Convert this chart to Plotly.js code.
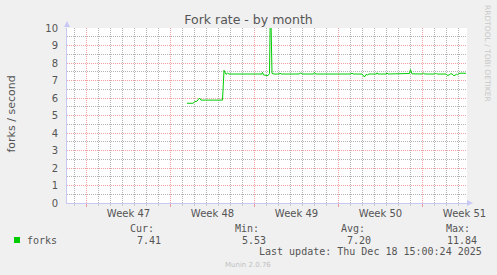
<!DOCTYPE html>
<html>
<head>
<meta charset="utf-8">
<script src="https://cdn.plot.ly/plotly-3.0.1.min.js"></script>
<style>html,body{margin:0;padding:0;background:#f0f0f0;}#chart{width:497px;height:275px;}</style>
</head>
<body>
<div id="chart"></div>
<script>
// ---- data ----
const times = [
 "2025-11-25 09:00","2025-11-25 21:00","2025-11-26 00:00","2025-11-26 05:00","2025-11-26 08:00",
 "2025-11-26 10:00","2025-11-26 13:00","2025-11-27 11:00","2025-11-28 08:00","2025-11-28 11:00",
 "2025-11-28 13:00","2025-11-28 15:00","2025-11-28 18:00","2025-11-28 21:00","2025-11-29 19:00",
 "2025-11-30 09:00","2025-11-30 11:00","2025-12-01 15:00","2025-12-01 16:00","2025-12-01 18:00",
 "2025-12-01 23:00","2025-12-02 03:00","2025-12-02 06:00","2025-12-02 08:00","2025-12-02 11:00",
 "2025-12-02 15:00","2025-12-03 02:00","2025-12-03 03:00","2025-12-03 05:00","2025-12-04 18:00",
 "2025-12-04 20:00","2025-12-04 23:00","2025-12-05 22:00","2025-12-06 00:00","2025-12-06 02:00",
 "2025-12-08 01:00","2025-12-09 01:00","2025-12-09 03:00","2025-12-09 05:00","2025-12-09 23:00",
 "2025-12-10 01:00","2025-12-10 04:00","2025-12-10 07:00","2025-12-10 10:00","2025-12-10 13:00",
 "2025-12-11 04:00","2025-12-11 05:00","2025-12-11 07:00","2025-12-11 23:00","2025-12-12 01:00",
 "2025-12-12 03:00","2025-12-13 22:00","2025-12-14 00:00","2025-12-14 03:00","2025-12-15 00:00",
 "2025-12-15 02:00","2025-12-15 04:00","2025-12-16 00:00","2025-12-16 02:00","2025-12-16 04:00",
 "2025-12-16 23:00","2025-12-17 01:00","2025-12-17 05:00","2025-12-17 08:00","2025-12-17 11:00",
 "2025-12-17 14:00","2025-12-17 17:00","2025-12-17 20:00","2025-12-17 22:00","2025-12-18 01:00",
 "2025-12-18 05:00","2025-12-18 15:00"
];
const forks = [
 5.70,5.70,5.78,5.82,5.93,
 6.00,5.88,5.88,5.88,7.58,
 7.40,7.35,7.42,7.37,7.37,
 7.40,7.37,7.37,7.46,7.32,
 7.30,7.28,7.40,11.84,7.40,
 7.37,7.37,7.43,7.37,7.37,
 7.44,7.37,7.37,7.46,7.37,
 7.37,7.37,7.43,7.37,7.37,
 7.32,7.20,7.35,7.32,7.37,
 7.37,7.44,7.37,7.37,7.43,
 7.37,7.40,7.62,7.38,7.37,
 7.44,7.37,7.37,7.43,7.37,
 7.37,7.30,7.31,7.38,7.38,
 7.28,7.30,7.36,7.33,7.40,
 7.42,7.41
];
const weekStarts = ["2025-11-17","2025-11-24","2025-12-01","2025-12-08","2025-12-15"];
const weekMids = ["2025-11-20 12:00","2025-11-27 12:00","2025-12-04 12:00","2025-12-11 12:00","2025-12-18 12:00"];
const weekLabels = ["Week 47","Week 48","Week 49","Week 50","Week 51"];
const xRange = ["2025-11-15 09:00","2025-12-18 17:00"];
const yTicks = [0,1,2,3,4,5,6,7,8,9,10];
const seriesName = "forks";
const statHeads = ["Cur:","Min:","Avg:","Max:"];
const statVals = ["7.41","5.53","7.20","11.84"];
const titleText = "Fork rate - by month";
const yTitle = "forks / second";
const lastUpdate = "Last update: Thu Dec 18 15:00:24 2025";
const footer = "Munin 2.0.76";
const sideText = "RRDTOOL / TOBI OETIKER";

// ---- minor grid positions (days that are not week starts; half steps on y) ----
const dayGrid = [];
for (let t = Date.UTC(2025, 10, 16); t <= Date.UTC(2025, 11, 18); t += 86400000) {
  const d = new Date(t);
  if (d.getUTCDay() !== 1) dayGrid.push(d.toISOString().slice(0, 10) + " 00:00");
}
const halfGrid = yTicks.slice(0, -1).map(v => v + 0.5);

// ---- geometry helpers (pixel -> paper) ----
const L = 67, R = 467, T = 28, B = 203, W = 497, H = 275;
const px = x => (x - L) / (R - L);
const py = y => (B - y) / (B - T);

const grey = "#555555";
const mono = "DejaVu Sans Mono, monospace";
const sans = "DejaVu Sans, sans-serif";

const anns = [];
function txt(text, x, y, anchor, size, color, family, angle) {
  anns.push({text: text, xref: "paper", yref: "paper", x: px(x), y: py(y),
    xanchor: anchor, yanchor: "middle", showarrow: false, borderpad: 0,
    textangle: angle || 0,
    font: {size: size, color: color, family: family}});
}
txt(yTitle, 10.5, 114, "center", 11, grey, sans, -90);
txt(sideText, 488, 53, "center", 7.5, "#c8c8c8", sans, 90);
txt(seriesName, 26, 240, "left", 10, grey, mono);
const headRight = [155, 260, 366, 471];
const valRight = [162, 267, 372, 478];
for (let i = 0; i < statHeads.length; i++) {
  txt(statHeads[i], headRight[i], 228, "right", 10, grey, mono);
  txt(statVals[i], valRight[i], 240, "right", 10, grey, mono);
}
txt(lastUpdate, 483, 251.5, "right", 10, grey, mono);
txt(footer, 248, 264.5, "center", 7, "#c0c0c0", sans);

const axisCol = "#c8c8f5";
const shapes = [
  {type: "rect", xref: "paper", yref: "paper", x0: px(14), x1: px(20), y0: py(237), y1: py(243),
   fillcolor: "#00cc00", line: {width: 0}},
  {type: "path", xref: "paper", yref: "paper",
   path: `M ${px(64)},${py(27)} L ${px(70)},${py(27)} L ${px(67)},${py(21)} Z`,
   fillcolor: axisCol, line: {width: 0}},
  {type: "path", xref: "paper", yref: "paper",
   path: `M ${px(467)},${py(200)} L ${px(467)},${py(206)} L ${px(473)},${py(203)} Z`,
   fillcolor: axisCol, line: {width: 0}}
];

const majorGrid = "#f0a0a0", minorGrid = "#b4b4b4", dots = "1px,1px";

// daily grey gridlines drawn as a background line trace (one segment per day)
const gx = [], gy = [];
dayGrid.forEach(d => { gx.push(d, d, null); gy.push(0, 10, null); });
const dayGridTrace = {
  x: gx, y: gy, type: "scatter", mode: "lines", hoverinfo: "skip", showlegend: false,
  line: {color: minorGrid, width: 1, dash: dots}, connectgaps: false
};

const trace = {
  x: times, y: forks, type: "scatter", mode: "lines", name: seriesName,
  line: {color: "#00cc00", width: 1, shape: "linear"}, hoverinfo: "x+y"
};

const layout = {
  width: W, height: H,
  margin: {l: L, r: W - R, t: T, b: H - B, pad: 0},
  paper_bgcolor: "#f0f0f0", plot_bgcolor: "#ffffff",
  showlegend: false,
  title: {text: titleText, xref: "container", x: 0.5, xanchor: "center",
          yref: "container", y: 1 - 19.5 / H, yanchor: "middle",
          font: {family: sans, size: 12.5, color: grey}},
  // main x axis: red weekly grid
  xaxis: {
    type: "date", range: xRange, tickmode: "array", tickvals: weekStarts,
    showticklabels: false, showgrid: true, gridcolor: majorGrid,
    griddash: dots, gridwidth: 1, ticks: "outside", ticklen: 3, tickcolor: "#ee9999",
    tickwidth: 1, showline: true, linecolor: axisCol, linewidth: 1, zeroline: false,
    fixedrange: true
  },
  // week labels centred on each week
  xaxis2: {
    type: "date", range: xRange, overlaying: "x", anchor: "y", side: "bottom",
    tickmode: "array", tickvals: weekMids, ticktext: weekLabels, showgrid: false,
    ticks: "", showline: false, zeroline: false, ticklabelstandoff: 3,
    tickfont: {family: sans, size: 10, color: grey}, fixedrange: true
  },
  // small grey day ticks below the axis
  xaxis3: {
    type: "date", range: xRange, overlaying: "x", anchor: "y", side: "bottom",
    tickmode: "array", tickvals: dayGrid, ticktext: dayGrid.map(() => ""), showgrid: false,
    ticks: "outside", ticklen: 2, tickcolor: "#cccccc", showline: false, zeroline: false,
    fixedrange: true
  },
  yaxis: {
    range: [0, 10], tickmode: "array", tickvals: yTicks, showgrid: true,
    gridcolor: majorGrid, griddash: dots, gridwidth: 1, zeroline: false,
    showline: true, linecolor: axisCol, linewidth: 1, ticks: "", ticklabelstandoff: 6,
    tickfont: {family: sans, size: 10, color: grey}, fixedrange: true
  },
  yaxis2: {
    range: [0, 10], overlaying: "y", anchor: "x", side: "left", tickmode: "array",
    tickvals: halfGrid, showticklabels: false, showgrid: true, gridcolor: minorGrid,
    griddash: dots, gridwidth: 1, zeroline: false, showline: false, ticks: "", fixedrange: true
  },
  annotations: anns,
  shapes: shapes
};

const d2 = {x: xRange, y: [null, null], xaxis: "x2", yaxis: "y", type: "scatter",
            mode: "lines", hoverinfo: "skip", showlegend: false};
const d3 = {x: xRange, y: [null, null], xaxis: "x3", yaxis: "y", type: "scatter",
            mode: "lines", hoverinfo: "skip", showlegend: false};
const d4 = {x: xRange, y: [null, null], xaxis: "x", yaxis: "y2", type: "scatter",
            mode: "lines", hoverinfo: "skip", showlegend: false};

Plotly.newPlot("chart", [d2, d3, d4, dayGridTrace, trace], layout,
               {displayModeBar: false, staticPlot: true});
</script>
</body>
</html>
